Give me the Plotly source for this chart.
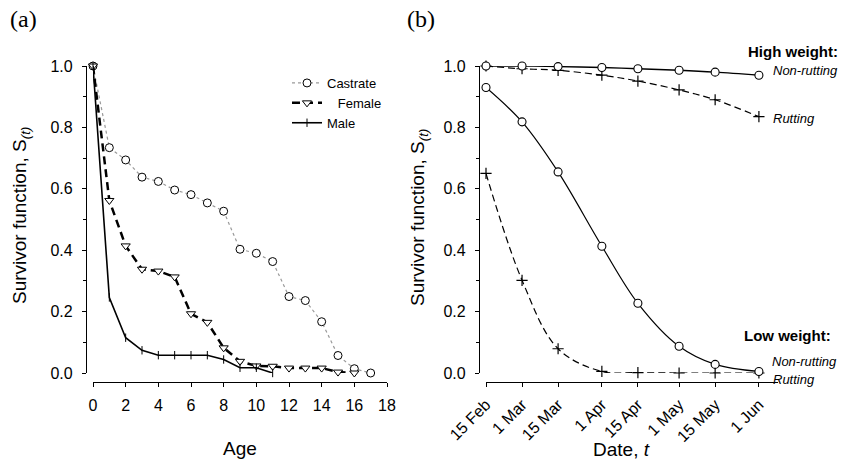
import plotly.graph_objects as go

# ---------------- Data ----------------
# Panel (a): survivor function by age
ages = list(range(0, 18))
castrate = [1.0, 0.734, 0.694, 0.638, 0.624, 0.596, 0.581, 0.554, 0.527,
            0.403, 0.390, 0.363, 0.249, 0.236, 0.167, 0.057, 0.014, 0.0]
female_ages = list(range(0, 17))
female = [1.0, 0.562, 0.414, 0.338, 0.332, 0.313, 0.193, 0.165, 0.082,
          0.038, 0.023, 0.022, 0.016, 0.016, 0.016, 0.003, 0.0]
male_ages = list(range(0, 12))
male = [1.0, 0.246, 0.115, 0.074, 0.058, 0.058, 0.058, 0.058, 0.044,
        0.017, 0.017, 0.0]

# Panel (b): survivor function by date
dates = ["2001-02-15", "2001-03-01", "2001-03-15", "2001-04-01",
         "2001-04-15", "2001-05-01", "2001-05-15", "2001-06-01"]
date_labels = ["15 Feb", "1 Mar", "15 Mar", "1 Apr", "15 Apr", "1 May", "15 May", "1 Jun"]
hw_nonrut = [1.0, 1.0, 0.998, 0.995, 0.991, 0.986, 0.980, 0.970]
hw_rut = [1.0, 0.991, 0.986, 0.970, 0.951, 0.922, 0.890, 0.835]
lw_nonrut = [0.930, 0.818, 0.655, 0.413, 0.227, 0.087, 0.028, 0.005]
lw_rut = [0.650, 0.302, 0.079, 0.005, 0.001, 0.0, 0.0, 0.0]

# ---------------- Layout helpers ----------------
W, H = 842, 462
FONT = "Liberation Sans, Arial, Helvetica, sans-serif"


def px(x):
    return x / W


def py(y):
    return 1 - y / H


fig = go.Figure()

# Panel (a) traces
fig.add_trace(go.Scatter(
    x=ages, y=castrate, name="Castrate", mode="lines+markers",
    line=dict(color="#9a9a9a", width=1.2, dash="dot"),
    marker=dict(symbol="circle", size=8, color="white",
                line=dict(color="black", width=1)),
    xaxis="x", yaxis="y", cliponaxis=False))
fig.add_trace(go.Scatter(
    x=female_ages, y=female, name="\u00a0\u00a0\u00a0Female", mode="lines+markers",
    line=dict(color="black", width=2.5, dash="8px,5px"),
    marker=dict(symbol="triangle-down", size=8, color="white",
                line=dict(color="black", width=1)),
    xaxis="x", yaxis="y", cliponaxis=False))
fig.add_trace(go.Scatter(
    x=male_ages, y=male, name="Male", mode="lines+markers",
    line=dict(color="black", width=1.6),
    marker=dict(symbol="line-ns-open", size=6, color="black",
                line=dict(color="black", width=1)),
    xaxis="x", yaxis="y", cliponaxis=False))

# Panel (b) traces
fig.add_trace(go.Scatter(
    x=dates, y=hw_rut, mode="lines+markers", showlegend=False,
    line=dict(color="black", width=1.2, dash="7px,4px", shape="spline"),
    marker=dict(symbol="cross-thin-open", size=8,
                line=dict(color="black", width=1.2)),
    xaxis="x2", yaxis="y2", cliponaxis=False))
fig.add_trace(go.Scatter(
    x=dates, y=hw_nonrut, mode="lines+markers", showlegend=False,
    line=dict(color="black", width=1.4, shape="spline"),
    marker=dict(symbol="circle", size=8, color="white",
                line=dict(color="black", width=1.1)),
    xaxis="x2", yaxis="y2", cliponaxis=False))
fig.add_trace(go.Scatter(
    x=dates, y=lw_rut, mode="lines+markers", showlegend=False,
    line=dict(color="black", width=1.2, dash="7px,4px", shape="spline"),
    marker=dict(symbol="cross-thin-open", size=8,
                line=dict(color="black", width=1.2)),
    xaxis="x2", yaxis="y2", cliponaxis=False))
fig.add_trace(go.Scatter(
    x=dates, y=lw_nonrut, mode="lines+markers", showlegend=False,
    line=dict(color="black", width=1.2, shape="spline"),
    marker=dict(symbol="circle", size=8, color="white",
                line=dict(color="black", width=1.1)),
    xaxis="x2", yaxis="y2", cliponaxis=False))

x_axis_pos = py(382)
y_domain = [py(373), py(66)]

common_axis = dict(showline=True, linecolor="black", linewidth=1.2,
                   ticks="outside", ticklen=4, tickwidth=1.2, tickcolor="black",
                   showgrid=False, zeroline=False, automargin=False,
                   tickfont=dict(family=FONT, size=16, color="black"))

fig.update_layout(
    width=W, height=H, autosize=False,
    margin=dict(l=0, r=0, t=0, b=0, pad=0, autoexpand=False),
    paper_bgcolor="white", plot_bgcolor="white",
    font=dict(family=FONT, color="black"),
    xaxis=dict(domain=[px(93), px(387)], range=[0, 18], anchor="free",
               position=x_axis_pos, dtick=2, tick0=0,
               ticklabelstandoff=5, **common_axis),
    yaxis=dict(domain=y_domain, range=[0, 1], anchor="free",
               position=px(86), dtick=0.2, tickformat=".1f",
               ticklabelstandoff=6,
               minor=dict(dtick=0.1, ticks="outside", ticklen=2.5,
                          tickcolor="black", tickwidth=1),
               **common_axis),
    xaxis2=dict(type="date", domain=[px(486), px(778)],
                range=["2001-02-15", "2001-06-08 10:00"], anchor="free",
                position=x_axis_pos, tickmode="array", tickvals=dates,
                ticktext=date_labels, tickangle=-45, ticklabelstandoff=2,
                **common_axis),
    yaxis2=dict(domain=y_domain, range=[0, 1], anchor="free",
                position=px(479), dtick=0.2, tickformat=".1f",
                ticklabelstandoff=6,
                minor=dict(dtick=0.1, ticks="outside", ticklen=2.5,
                           tickcolor="black", tickwidth=1),
                **common_axis),
    legend=dict(x=px(287), y=py(68), xanchor="left", yanchor="top",
                bgcolor="rgba(0,0,0,0)", tracegroupgap=0,
                font=dict(family=FONT, size=13, color="black"),
                itemwidth=30),
)

ann = []


def add_text(text, x, y, size, xanchor="center", angle=0, family=FONT):
    ann.append(dict(text=text, x=px(x), y=py(y), xref="paper", yref="paper",
                    xanchor=xanchor, yanchor="middle", showarrow=False,
                    textangle=angle,
                    font=dict(family=family, size=size, color="black")))


add_text("(a)", 23, 19, 24, family="Liberation Serif, Times New Roman, serif")
add_text("(b)", 421, 19, 24, family="Liberation Serif, Times New Roman, serif")
add_text("Survivor function, S<sub><i>(t)</i></sub>", 21, 216, 19, angle=-90)
add_text("Survivor function, S<sub><i>(t)</i></sub>", 419, 218, 19, angle=-90)
add_text("Age", 240, 448, 19)
add_text("Date, <i>t</i>", 621, 449, 19)
add_text("<b>High weight:</b>", 746, 52, 15, xanchor="left")
add_text("<i>Non-rutting</i>", 771, 71, 13, xanchor="left")
add_text("<i>Rutting</i>", 771, 118, 13, xanchor="left")
add_text("<b>Low weight:</b>", 742, 335, 15, xanchor="left")
add_text("<i>Non-rutting</i>", 770, 361, 13, xanchor="left")
add_text("<i>Rutting</i>", 771, 379, 13, xanchor="left")

fig.update_layout(annotations=ann)

fig.write_html(
    "out.html",
    config={"displayModeBar": False},
    post_script="document.body.style.margin='0';document.body.style.overflow='hidden';",
)
